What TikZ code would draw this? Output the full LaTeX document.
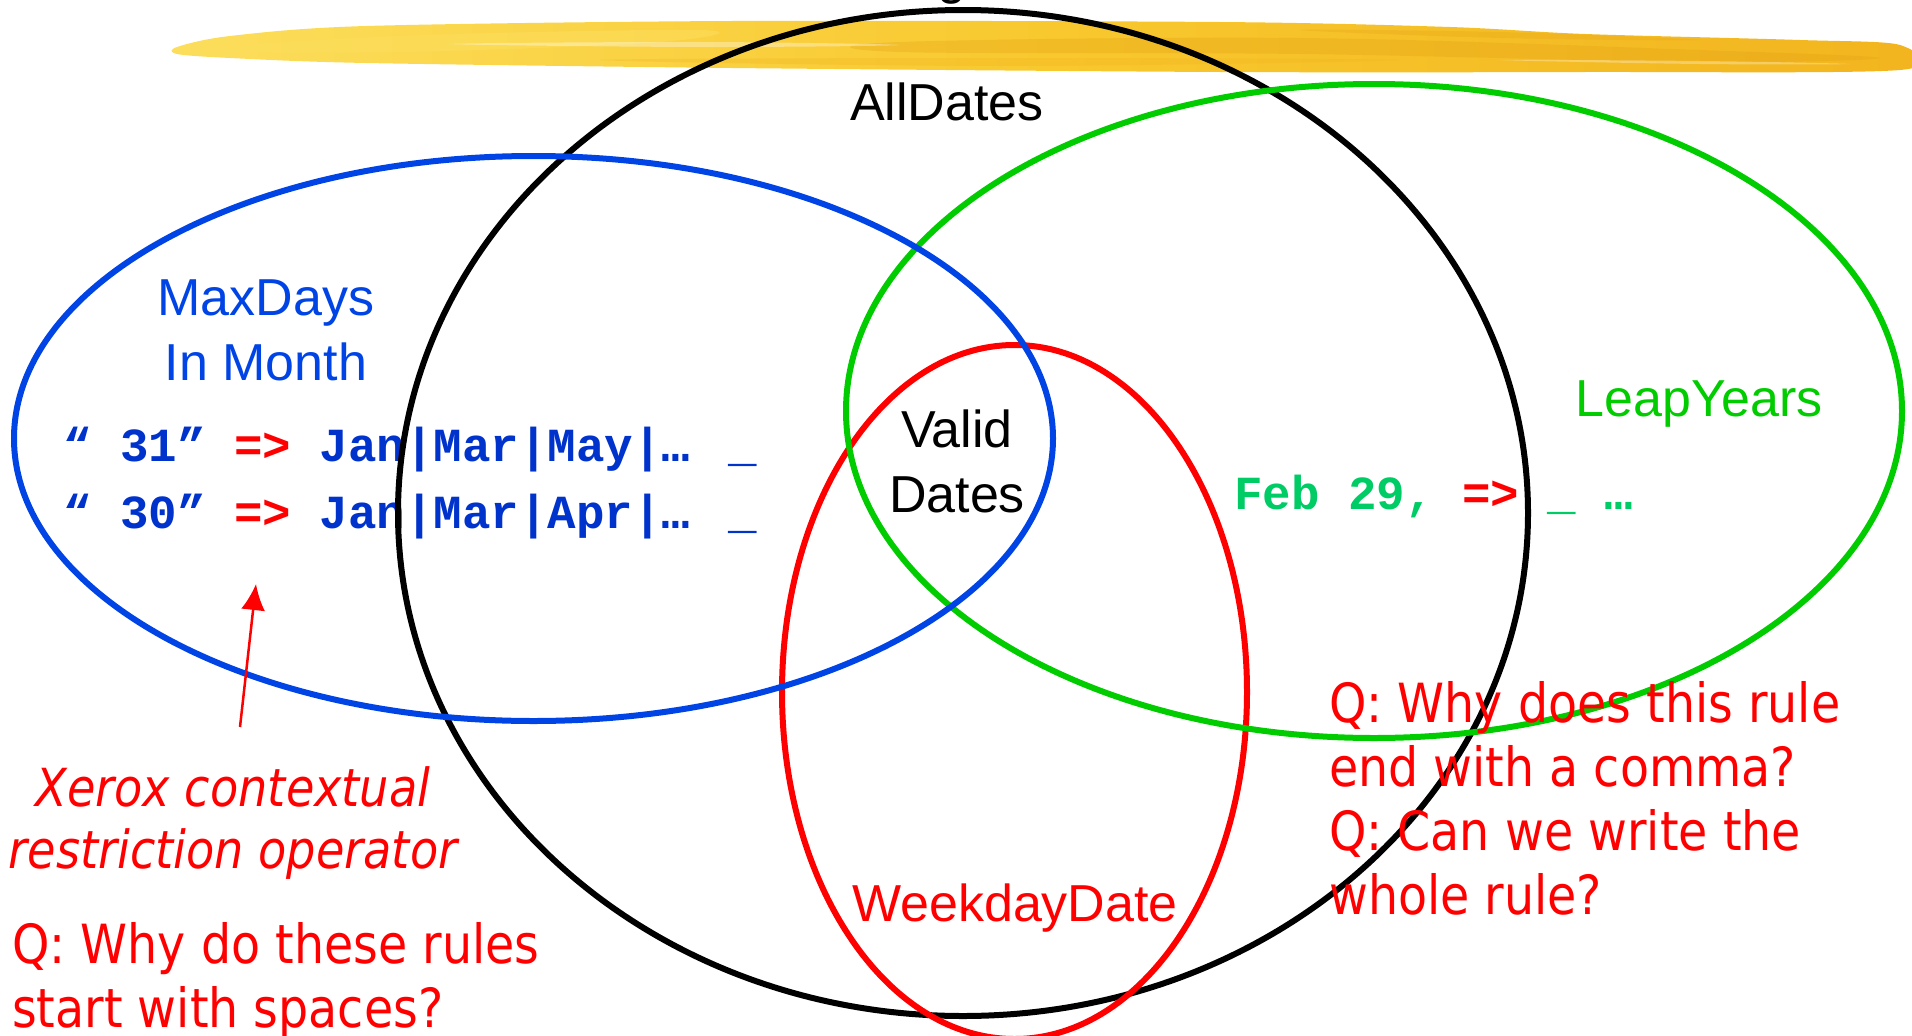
\documentclass[tikz,border=0pt]{standalone}
\usepackage{fontspec}
\setmainfont{Liberation Sans}
\newfontfamily\monofont{Liberation Mono}
\newfontfamily\qfont{DejaVu Sans}[FakeStretch=0.88]
\usetikzlibrary{shapes.geometric,arrows.meta}
\definecolor{setblue}{RGB}{0,68,230}
\definecolor{codeblue}{RGB}{0,51,204}
\definecolor{setgreen}{RGB}{0,204,0}
\definecolor{codegreen}{RGB}{0,204,102}
\definecolor{setred}{RGB}{255,0,0}
\definecolor{brushA}{RGB}{252,222,92}
\definecolor{brushB}{RGB}{248,200,46}
\definecolor{brushC}{RGB}{242,180,30}
\definecolor{brushD}{RGB}{226,160,18}
\tikzset{
  setring/.style={draw=#1, shape=ellipse, line width=6pt, inner sep=0pt, outer sep=0pt},
  biglabel/.style={font=\fontsize{52}{62}\selectfont, anchor=base, inner sep=0pt},
  codeline/.style={font=\monofont\bfseries\fontsize{47.5}{57}\selectfont, anchor=base west, inner sep=0pt},
  qtext/.style={font=\qfont\fontsize{54}{64}\selectfont, text=setred, anchor=base west, inner sep=0pt},
  notetext/.style={font=\qfont\itshape\fontsize{52.5}{64}\selectfont, text=setred, anchor=base, inner sep=0pt},
  pointer/.style={draw=setred, line width=2.5pt, -{Latex[length=26pt,width=24pt]}}
}
\begin{document}
\begin{tikzpicture}[x=1pt,y=-1pt]
\useasboundingbox (0,0) rectangle (1912,1036);
\clip (0,0) rectangle (1912,1036);
% yellow brush stroke
\shade[left color=brushA, right color=brushC, middle color=brushB]
  plot[smooth cycle, tension=0.5] coordinates {(177,47) (230,36) (366,26) (732,21) (1220,22) (1450,27) (1585,34) (1800,40) (1900,45) (1900,70) (1585,72) (1220,72) (732,68) (366,63) (230,58) (177,54)};
\fill[brushD, opacity=0.3] plot[smooth cycle, tension=0.6] coordinates {(900,42) (1300,38) (1700,50) (1880,58) (1700,62) (1300,54) (900,52)};
\fill[brushA, opacity=0.55] plot[smooth cycle, tension=0.6] coordinates {(200,50) (400,36) (700,30) (660,42) (400,52)};
\fill[brushC, opacity=0.3] plot[smooth cycle, tension=0.6] coordinates {(600,60) (1000,58) (1400,60) (1000,66)};
\fill[brushD, opacity=0.25] plot[smooth cycle, tension=0.6] coordinates {(1300,30) (1500,32) (1700,40) (1500,38)};
\fill[white, opacity=0.35] plot[smooth cycle, tension=0.6] coordinates {(450,44) (700,42) (900,45) (700,47)};
\fill[white, opacity=0.3] plot[smooth cycle, tension=0.6] coordinates {(1500,60) (1700,61) (1850,64) (1700,64)};
% title fragment
\node[biglabel, text=black] (titlefrag) at (952,-6) {g};
% rules
\node[codeline, text=codeblue] (rule31) at (63,461) {“ 31” {\color{setred}=>} Jan|Mar|May|… \kern10pt\_};
\node[codeline, text=codeblue] (rule30) at (63,528) {“ 30” {\color{setred}=>} Jan|Mar|Apr|… \kern10pt\_};
\node[codeline, text=codegreen] (feb) at (1234,509) {Feb 29, {\color{setred}=>} \_ …};
% sets
\node[setring=black, minimum width=1130pt, minimum height=1006pt] (alldates) at (963,513) {};
\node[setring=setred, minimum width=465pt, minimum height=694pt] (weekday) at (1014.5,692) {};
\node[setring=setgreen, minimum width=1056pt, minimum height=654pt] (leap) at (1374,411) {};
\node[setring=setblue, minimum width=1039pt, minimum height=565pt] (maxdays) at (533.5,438.5) {};
% set labels
\node[biglabel, text=black] (lblall) at (947,120) {AllDates};
\node[biglabel, text=setblue] (lblmax1) at (266,315) {MaxDays};
\node[biglabel, text=setblue] (lblmax2) at (266,380) {In Month};
\node[biglabel, text=black] (lblvalid1) at (957,447) {Valid};
\node[biglabel, text=black] (lblvalid2) at (957,512) {Dates};
\node[biglabel, text=setgreen] (lblleap) at (1699,416) {LeapYears};
\node[biglabel, text=setred] (lblweek) at (1015,921) {WeekdayDate};
% notes
\node[notetext] (xerox1) at (233,806) {Xerox contextual};
\node[notetext] (xerox2) at (233,868) {restriction operator};
\coordinate (arrtail) at (240,727);
\coordinate (arrhead) at (256,584);
\draw[pointer] (arrtail) -- (arrhead);
\node[qtext] (qa1) at (12,963) {Q: Why do these rules};
\node[qtext] (qa2) at (12,1027) {start with spaces?};
\node[qtext] (qb1) at (1329,722) {Q: Why does this rule};
\node[qtext] (qb2) at (1329,786) {end with a comma?};
\node[qtext] (qb3) at (1329,850) {Q: Can we write the};
\node[qtext] (qb4) at (1329,914) {whole rule?};
\end{tikzpicture}
\end{document}
